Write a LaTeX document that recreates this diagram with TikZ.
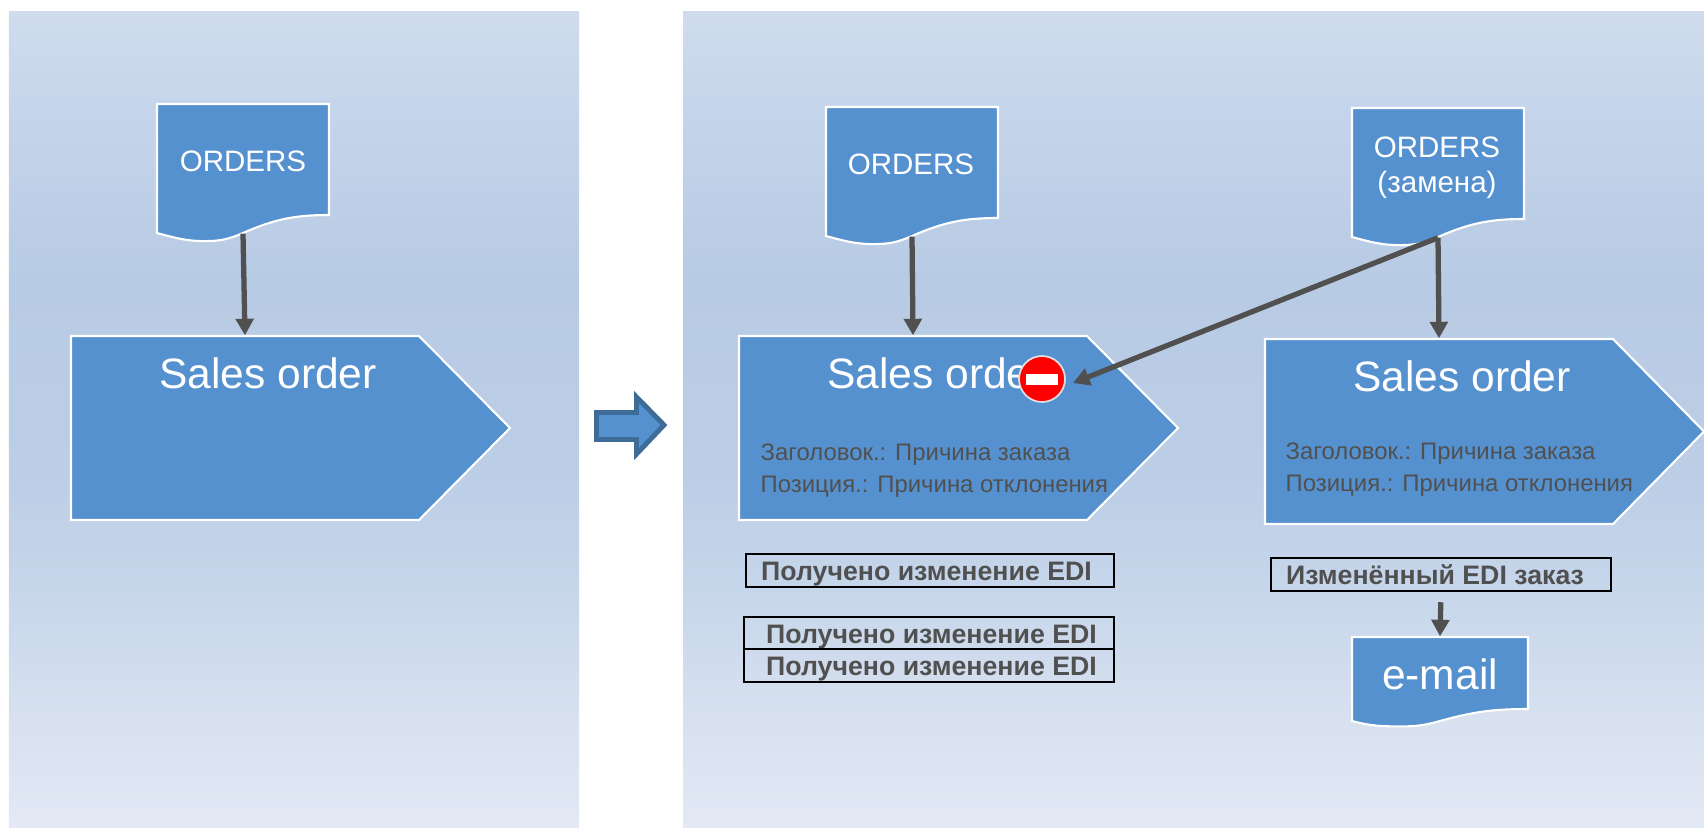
\documentclass[tikz,border=0pt]{standalone}
\usepackage{fontspec}
\setmainfont{Liberation Sans}
\usetikzlibrary{arrows.meta,fit}
\definecolor{kblue}{HTML}{5691CF}
\definecolor{kedge}{HTML}{3D6C99}
\definecolor{kgray}{HTML}{505050}
\definecolor{kpanA}{HTML}{D0DCEC}
\definecolor{kpanB}{HTML}{C5D5EB}
\definecolor{kpanC}{HTML}{B8CBE4}
\definecolor{kpanD}{HTML}{BCCEE6}
\definecolor{kpanE}{HTML}{C5D5EA}
\definecolor{kpanF}{HTML}{D3DEEE}
\definecolor{kpanG}{HTML}{E3E9F5}
\pgfdeclareverticalshading{kpanel}{100bp}{color(0bp)=(kpanG); color(25bp)=(kpanG); color(33.7bp)=(kpanF); color(40.1bp)=(kpanE); color(46.6bp)=(kpanD); color(58.5bp)=(kpanC); color(69.2bp)=(kpanB); color(75bp)=(kpanA); color(100bp)=(kpanA)}
\tikzset{
  kshape/.style={fill=kblue,draw=white,line width=0.6pt},
  kspan/.style={inner sep=0pt,fit={#1}},
  kflow/.style={draw=kgray,line width=1.5pt,-{Triangle[length=0.165cm,width=0.175cm]}},
  ktitle/.style={text=white,font=\fontsize{12.1}{14}\selectfont,anchor=base},
  kdoctext/.style={text=white,font=\fontsize{8.4}{10}\selectfont,anchor=base},
  kreason/.style={text=kgray,inner sep=0pt,font=\fontsize{6.8}{8}\selectfont,anchor=base west},
  kstatus/.style={draw=black,line width=0.7pt,inner sep=0pt,text=kgray,font=\fontsize{7.6}{9}\selectfont\bfseries,text height=0.2cm,text depth=0pt},
}
%document: name, left, top, width, height, wave
\newcommand{\kdoc}[6]{
  \pgfmathsetmacro{\kr}{#2+#4}
  \pgfmathsetmacro{\ks}{#3-#5}
  \pgfmathsetmacro{\km}{#2+0.5*#4}
  \pgfmathsetmacro{\kn}{#2+0.28*#4}
  \pgfmathsetmacro{\kb}{#3-#5-#6}
  \pgfmathsetmacro{\kc}{#3-#5-1.45*#6}
  \pgfmathsetmacro{\kang}{2*atan(#6/(0.5*#4))}
  \draw[kshape](#2,#3) -- (\kr,#3) -- (\kr,\ks) to [out=180,in=\kang] (\km,\kb) to [out=180+\kang,in=0] (\kn,\kc) to [out=180,in=-15] (#2,\kb) -- cycle;
  \node[kspan={(#2,#3)(\kr,\kb)}](#1){};
}
%sales order: name, left, top, height
\newcommand{\ksales}[4]{
  \pgfmathsetmacro{\kr}{#2+3.48}
  \pgfmathsetmacro{\kt}{#2+4.39}
  \pgfmathsetmacro{\ks}{#3-#4}
  \pgfmathsetmacro{\km}{#3-0.5*#4}
  \pgfmathsetmacro{\kx}{#2+1.97}
  \pgfmathsetmacro{\ky}{#3-0.52}
  \draw[kshape](#2,#3) -- (\kr,#3) -- (\kt,\km) -- (\kr,\ks) -- (#2,\ks) -- cycle;
  \node[kspan={(#2,#3)(\kr,\ks)}](#1){};
  \node[ktitle] at (\kx,\ky) {Sales order};
}
\begin{document}
\begin{tikzpicture}
\useasboundingbox (0,0) rectangle (17.04,8.27);
%panels
\shade[shading=kpanel] (0.09,0) rectangle (5.79,8.16);
\shade[shading=kpanel] (6.83,0) rectangle (17.04,8.16);
%left
\kdoc{docA}{1.57}{7.23}{1.72}{1.11}{0.18}
\node[kdoctext] (docAtext) at (2.43,6.56) {ORDERS};
\ksales{soA}{0.71}{4.91}{1.84}
\draw[kflow](docA.south) -- (soA.north);
%big arrow
\draw[fill=kblue,draw=kedge,line width=1.4pt,miter limit=10](5.965,4.145) -- (6.365,4.145) -- (6.365,4.3) -- (6.64,4.02) -- (6.365,3.73) -- (6.365,3.875) -- (5.965,3.875) -- cycle;
%middle
\kdoc{docB}{8.26}{7.2}{1.72}{1.11}{0.18}
\node[kdoctext] (docBtext) at (9.11,6.53) {ORDERS};
\ksales{soB}{7.39}{4.91}{1.84}
\draw[kflow](docB.south) -- (soB.north);
\node[kreason] (reasonA) at (7.6,3.67) {Заголовок.: Причина заказа};
\node[kreason] (reasonB) at (7.6,3.35) {Позиция.: Причина отклонения};
\node[kstatus,minimum width=3.68cm,minimum height=0.33cm] (ediA) at (9.3,2.565) {Получено изменение EDI\kern 0.07cm};
\node[kstatus,minimum width=3.7cm,minimum height=0.32cm] (ediB) at (9.29,1.94) {\kern 0.05cm Получено изменение EDI};
\node[kstatus,minimum width=3.7cm,minimum height=0.33cm] (ediC) at (9.29,1.615) {\kern 0.05cm Получено изменение EDI};
%right
\kdoc{docC}{13.52}{7.19}{1.72}{1.11}{0.18}
\node[kdoctext] (docCtext) at (14.37,6.7) {ORDERS};
\node[kdoctext] (docCsub) at (14.37,6.35) {(замена)};
\ksales{soC}{12.65}{4.88}{1.85}
\draw[kflow](docC.south) -- (soC.north);
\node[kreason] (reasonC) at (12.85,3.68) {Заголовок.: Причина заказа};
\node[kreason] (reasonD) at (12.85,3.36) {Позиция.: Причина отклонения};
\node[kstatus,minimum width=3.4cm,minimum height=0.33cm] (ediD) at (14.41,2.525) {Изменённый EDI заказ\kern 0.12cm};
\kdoc{mail}{13.52}{1.9}{1.76}{0.72}{0.12}
\node[ktitle] (mailtext) at (14.4,1.38) {e-mail};
\draw[kflow,shorten <=0.1cm](ediD.south) -- (mail.north);
%stop sign
\coordinate (stopB) at (10.73,4.44);
\draw[kflow](docC.south) -- (stopB);
\node[circle,fill=red,draw=white!75!gray,line width=0.5pt,minimum size=0.46cm,inner sep=0pt] (stopA) at (10.42,4.48) {};
\fill[white] (10.26,4.53) rectangle (10.58,4.42);
\end{tikzpicture}
\end{document}
